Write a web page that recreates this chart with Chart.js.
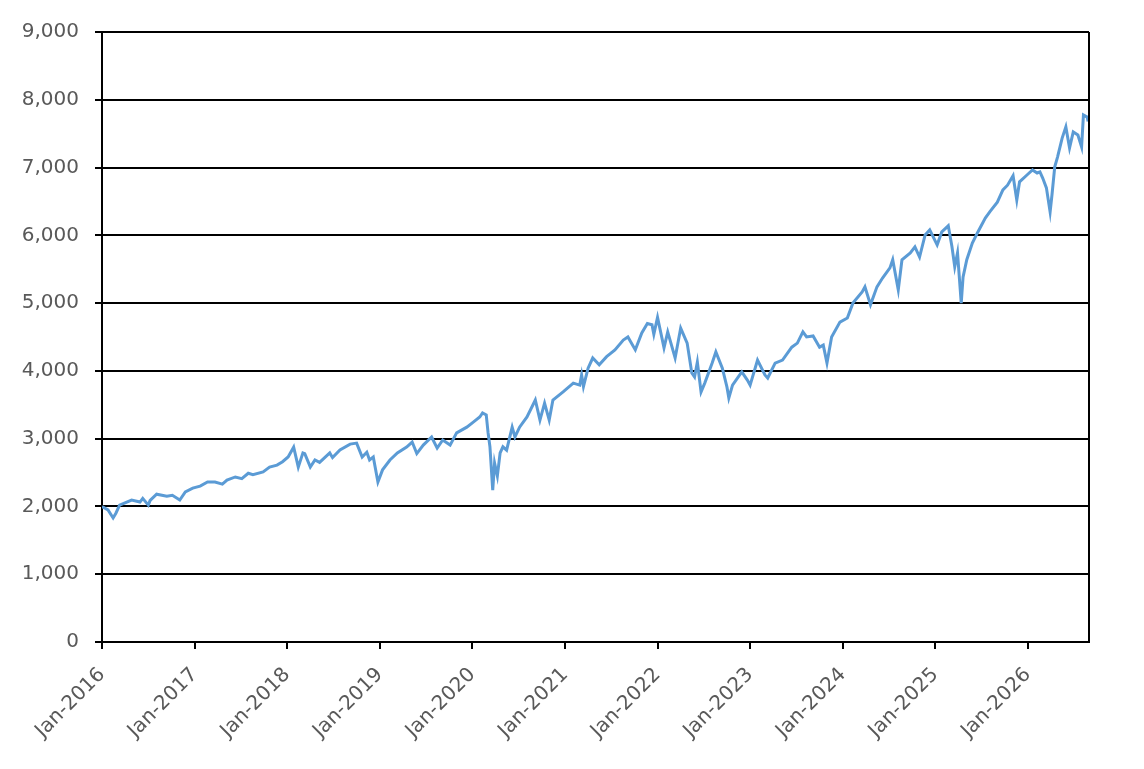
<!DOCTYPE html>
<html>
<head>
<meta charset="utf-8">
<script src="https://cdn.jsdelivr.net/npm/chart.js@4.4.1/dist/chart.umd.min.js"></script>
<style>
  html, body { margin: 0; padding: 0; background: #fff; }
  #wrap { width: 1144px; height: 769px; position: relative; }
</style>
</head>
<body>
<div id="wrap"><canvas id="indexChart"></canvas></div>
<script>
// Dates as decimal years
const dates = [
  2016.00, 2016.065, 2016.12, 2016.15, 2016.19, 2016.32, 2016.41, 2016.44, 2016.50, 2016.52,
  2016.59, 2016.70, 2016.76, 2016.84, 2016.90, 2016.98, 2017.06, 2017.14, 2017.22, 2017.30,
  2017.35, 2017.44, 2017.51, 2017.58, 2017.63, 2017.74, 2017.81, 2017.89, 2017.95, 2018.01,
  2018.07, 2018.12, 2018.17, 2018.19, 2018.25, 2018.30, 2018.35, 2018.46, 2018.49, 2018.57,
  2018.68, 2018.75, 2018.81, 2018.86, 2018.89, 2018.93, 2018.98, 2019.03, 2019.11, 2019.19,
  2019.29, 2019.35, 2019.40, 2019.47, 2019.56, 2019.62, 2019.68, 2019.76, 2019.83, 2019.94,
  2020.01, 2020.08, 2020.11, 2020.15, 2020.17, 2020.19, 2020.22, 2020.24, 2020.27, 2020.30,
  2020.33, 2020.37, 2020.43, 2020.46, 2020.51, 2020.59, 2020.68, 2020.73, 2020.78, 2020.83,
  2020.87, 2020.98, 2021.09, 2021.16, 2021.18, 2021.20, 2021.25, 2021.30, 2021.37, 2021.45,
  2021.54, 2021.63, 2021.68, 2021.76, 2021.83, 2021.89, 2021.94, 2021.96, 2022.00, 2022.07,
  2022.11, 2022.19, 2022.25, 2022.32, 2022.37, 2022.40, 2022.43, 2022.47, 2022.51, 2022.59,
  2022.63, 2022.70, 2022.75, 2022.77, 2022.81, 2022.91, 2022.97, 2023.00, 2023.08, 2023.16,
  2023.19, 2023.27, 2023.35, 2023.45, 2023.51, 2023.57, 2023.61, 2023.68, 2023.75, 2023.79,
  2023.83, 2023.88, 2023.97, 2024.05, 2024.11, 2024.21, 2024.24, 2024.30, 2024.37, 2024.43,
  2024.51, 2024.54, 2024.60, 2024.64, 2024.73, 2024.78, 2024.83, 2024.89, 2024.94, 2025.02,
  2025.07, 2025.14, 2025.18, 2025.21, 2025.24, 2025.28, 2025.30, 2025.34, 2025.40, 2025.46,
  2025.54, 2025.59, 2025.67, 2025.73, 2025.78, 2025.84, 2025.88, 2025.91, 2025.99, 2026.05,
  2026.10, 2026.13, 2026.16, 2026.20, 2026.24, 2026.26, 2026.29, 2026.32, 2026.37, 2026.41,
  2026.45, 2026.49, 2026.54, 2026.58, 2026.60, 2026.64, 2026.65
];
const values = [
  2000, 1950, 1830, 1900, 2020, 2095, 2065, 2120, 2020, 2090,
  2180, 2150, 2165, 2095, 2215, 2270, 2300, 2360, 2360, 2330,
  2390, 2435, 2410, 2490, 2470, 2510, 2580, 2610, 2660, 2730,
  2875, 2580, 2790, 2780, 2580, 2685, 2650, 2790, 2720, 2835,
  2920, 2935, 2730, 2800, 2685, 2730, 2360, 2540, 2685, 2790,
  2875, 2950, 2780, 2905, 3025, 2860, 2980, 2905, 3085, 3170,
  3245, 3320, 3380, 3350, 3085, 2880, 2240, 2640, 2450, 2790,
  2880, 2830, 3170, 3025, 3170, 3320, 3570, 3275, 3525, 3275,
  3570, 3690, 3820, 3790, 3940, 3770, 4040, 4190, 4090, 4210,
  4310, 4455, 4500, 4310, 4560, 4700, 4680, 4540, 4790, 4340,
  4575, 4190, 4630, 4410, 3970, 3910, 4130, 3690, 3820, 4115,
  4280, 4040, 3760, 3600, 3790, 3985, 3865, 3790, 4160, 3940,
  3895, 4115, 4160, 4350, 4410, 4575, 4500, 4515, 4350, 4380,
  4115, 4500, 4720, 4780, 5000, 5165, 5240, 4975, 5240, 5370,
  5520, 5640, 5195, 5640, 5740, 5830, 5680, 6005, 6080, 5860,
  6050, 6140, 5830, 5535, 5740, 5000, 5385, 5640, 5885, 6050,
  6255, 6350, 6490, 6670, 6740, 6880, 6520, 6790, 6890, 6965,
  6920, 6935, 6845, 6700, 6345, 6595, 7010, 7155, 7435, 7600,
  7290, 7525, 7480, 7305, 7775, 7745, 7680
];
const yTicks = [0, 1000, 2000, 3000, 4000, 5000, 6000, 7000, 8000, 9000];
const xYears = [2016, 2017, 2018, 2019, 2020, 2021, 2022, 2023, 2024, 2025, 2026];
const xEnd = 2026.66;

const points = dates.map((d, i) => ({ x: d, y: values[i] }));

// draw the right-hand edge of the plot frame
const frameRight = {
  id: 'frameRight',
  afterDraw(chart) {
    const { ctx, chartArea } = chart;
    ctx.save();
    ctx.strokeStyle = '#000';
    ctx.lineWidth = 2;
    ctx.beginPath();
    ctx.moveTo(chartArea.right, chartArea.top);
    ctx.lineTo(chartArea.right, chartArea.bottom);
    ctx.stroke();
    ctx.restore();
  }
};

const tickFont = { family: 'DejaVu Sans', size: 20 };

new Chart(document.getElementById('indexChart'), {
  type: 'line',
  data: {
    datasets: [{
      data: points,
      borderColor: '#5B9BD5',
      borderWidth: 3,
      pointRadius: 0,
      tension: 0,
      fill: false
    }]
  },
  options: {
    responsive: true,
    maintainAspectRatio: false,
    animation: false,
    layout: { padding: { top: 32, right: 55, left: 0, bottom: 0 } },
    plugins: { legend: { display: false }, tooltip: { enabled: false } },
    scales: {
      x: {
        type: 'linear',
        min: xYears[0],
        max: xEnd,
        afterBuildTicks(scale) {
          scale.ticks = xYears.map(v => ({ value: v }));
        },
        afterFit(scale) { scale.height = 769 - 642; },
        grid: { drawOnChartArea: false, drawTicks: true, tickLength: 7, color: '#000', lineWidth: 2 },
        border: { color: '#000', width: 2 },
        ticks: {
          minRotation: 45,
          maxRotation: 45,
          autoSkip: false,
          padding: 14,
          color: '#595959',
          font: tickFont,
          callback: v => 'Jan-' + v
        }
      },
      y: {
        min: yTicks[0],
        max: yTicks[yTicks.length - 1],
        afterBuildTicks(scale) {
          scale.ticks = yTicks.map(v => ({ value: v }));
        },
        afterFit(scale) { scale.width = 102; },
        grid: { color: '#000', lineWidth: 2, tickLength: 7 },
        border: { color: '#000', width: 2 },
        ticks: {
          padding: 16,
          color: '#595959',
          font: tickFont,
          callback: v => v.toLocaleString('en-US')
        }
      }
    }
  },
  plugins: [frameRight]
});
</script>
</body>
</html>
